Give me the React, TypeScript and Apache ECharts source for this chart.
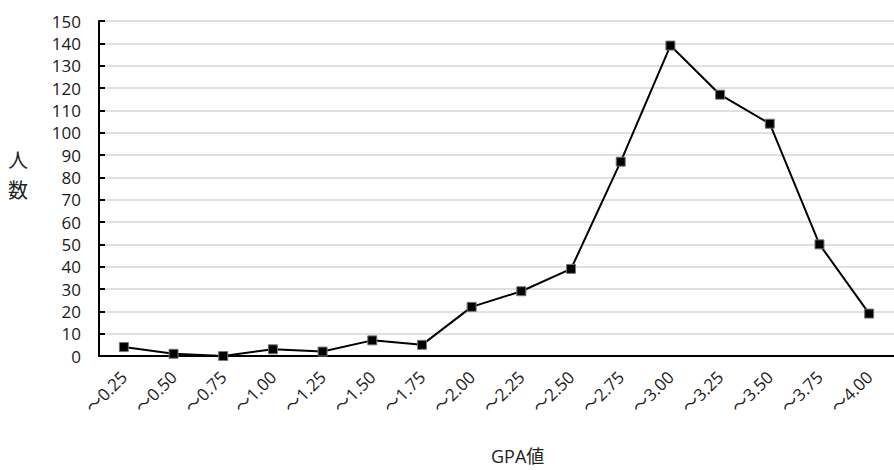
import React, { useEffect, useRef } from "react";
import * as echarts from "echarts";

const categories = ["～0.25", "～0.50", "～0.75", "～1.00", "～1.25", "～1.50", "～1.75", "～2.00", "～2.25", "～2.50", "～2.75", "～3.00", "～3.25", "～3.50", "～3.75", "～4.00"];
const counts = [4, 1, 0, 3, 2, 7, 5, 22, 29, 39, 87, 139, 117, 104, 50, 19];
const xTitle = "GPA値";
const yTitle = "人\n数";

export default function App() {
  const ref = useRef<HTMLDivElement>(null);
  useEffect(() => {
    const chart = echarts.init(ref.current!, null, { renderer: "svg" });
    const font = "'Open Sans', 'Noto Sans CJK JP', sans-serif";
    chart.setOption({
      animation: false,
      backgroundColor: "#ffffff",
      textStyle: { fontFamily: font },
      grid: { left: 99, right: 0, top: 21, bottom: 114, containLabel: false },
      xAxis: {
        type: "category",
        data: categories,
        boundaryGap: true,
        axisLine: { lineStyle: { color: "#000", width: 2 } },
        axisTick: { inside: true, length: 6, lineStyle: { color: "#000", width: 2 } },
        axisLabel: { rotate: 45, fontSize: 17, color: "#222", margin: 18, fontFamily: font, interval: 0 },
        splitLine: { show: false },
      },
      yAxis: {
        type: "value",
        min: 0,
        max: 150,
        interval: 10,
        axisLine: { show: true, lineStyle: { color: "#000", width: 2 } },
        axisTick: { show: true, inside: true, length: 6, lineStyle: { color: "#000", width: 2 } },
        axisLabel: { fontSize: 17, color: "#1a1a1a", margin: 18, fontFamily: font },
        splitLine: { lineStyle: { color: "#d6d6d6", width: 1.5 } },
      },
      graphic: [
        {
          type: "text",
          left: 491,
          top: 447,
          style: { text: xTitle, fontSize: 18, fill: "#222", fontFamily: font },
        },
        {
          type: "text",
          left: 8,
          top: 145,
          style: { text: yTitle, fontSize: 20, fill: "#222", lineHeight: 30, fontFamily: font },
        },
      ],
      series: [
        {
          type: "line",
          data: counts,
          symbol: "rect",
          symbolSize: 9,
          lineStyle: { color: "#000", width: 2 },
          itemStyle: { color: "#000", borderColor: "#777", borderWidth: 1 },
        },
      ],
    });
    return () => chart.dispose();
  }, []);
  return <div ref={ref} style={{ position: "fixed", left: 0, top: 0, width: 894, height: 470 }} />;
}
